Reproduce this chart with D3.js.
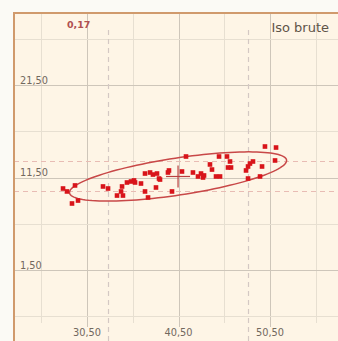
<!DOCTYPE html>
<html><head><meta charset="utf-8">
<script src="https://cdn.jsdelivr.net/npm/d3@7"></script>
<style>html,body{margin:0;padding:0;background:#fbfaf5;}svg{display:block;}</style>
</head><body>
<script>
// ---- data ----
const xTicks = [30.5, 40.5, 50.5];
const xTickLabels = ["30,50", "40,50", "50,50"];
const yTicks = [21.5, 11.5, 1.5];
const yTickLabels = ["21,50", "11,50", "1,50"];
const xGrid = [25.5, 30.5, 35.5, 40.5, 45.5, 50.5, 55.5];
const yGrid = [26.5, 21.5, 16.5, 11.5, 6.5, 1.5, -3.5];
const xs = [27.88,28.31,29.19,28.86,29.52,32.25,32.80,33.78,34.22,34.33,34.43,34.87,35.31,35.64,35.75,36.40,36.84,37.39,37.71,38.15,38.37,36.84,37.17,38.04,39.35,39.46,39.79,40.88,41.32,42.08,42.63,42.96,43.18,43.29,43.94,44.16,44.60,45.04,44.93,45.80,46.13,45.91,46.24,47.88,48.10,48.31,48.64,48.10,49.41,49.63,49.95,51.16,51.05,38.48];
const ys = [10.31,9.99,10.64,8.69,9.01,10.53,10.31,9.55,9.99,10.53,9.55,10.96,11.07,11.18,10.96,10.85,11.93,12.04,11.82,11.93,11.39,9.99,9.34,10.42,12.04,12.26,9.99,12.15,13.77,12.04,11.61,11.93,11.50,11.72,12.91,12.36,11.61,11.61,13.77,13.77,13.23,12.58,12.58,12.26,12.69,13.01,13.23,11.39,11.61,12.69,14.85,14.74,13.34,11.28];
const ellipseCenter = [40.45, 11.61];
const ellipseMajor = [11.86, 1.78];
const ellipseMinor = [0.30, -1.98];
const boundsX = [32.8, 48.1];
const boundsY = [13.23, 9.99];
const corrLabel = "0,17";
const chartLabel = "Iso brute";

// ---- drawing ----
const W = 338, H = 341;
const x = d3.scaleLinear().domain([30.5, 50.5]).range([87, 270]);
const y = d3.scaleLinear().domain([21.5, 1.5]).range([85, 270]);
const svg = d3.select("body").append("svg").attr("width", W).attr("height", H);

const plotL = 14, plotT = 13;
svg.append("rect").attr("x", plotL).attr("y", plotT).attr("width", W - plotL + 5).attr("height", H - plotT + 5)
  .attr("fill", "#fef5e6");

const isMajorX = v => xTicks.includes(v), isMajorY = v => yTicks.includes(v);
svg.append("g").selectAll("line").data(xGrid).join("line")
  .attr("x1", d => Math.round(x(d)) + 0.5).attr("x2", d => Math.round(x(d)) + 0.5)
  .attr("y1", plotT).attr("y2", d => isMajorX(d) ? 327 : 323)
  .attr("stroke", d => isMajorX(d) ? "#cec6ba" : "#e7dfd1").attr("stroke-width", 1);
svg.append("g").selectAll("line").data(yGrid).join("line")
  .attr("y1", d => Math.round(y(d)) + 0.5).attr("y2", d => Math.round(y(d)) + 0.5)
  .attr("x1", plotL).attr("x2", W)
  .attr("stroke", d => isMajorY(d) ? "#cec6ba" : "#e7dfd1").attr("stroke-width", 1);

// dashed bound lines
svg.append("g").selectAll("line").data(boundsX).join("line")
  .attr("x1", d => Math.round(x(d)) + 0.5).attr("x2", d => Math.round(x(d)) + 0.5)
  .attr("y1", 30).attr("y2", H)
  .attr("stroke", "#d4c8c4").attr("stroke-width", 1.2).attr("stroke-dasharray", "5,4");
svg.append("g").selectAll("line").data(boundsY).join("line")
  .attr("y1", d => Math.round(y(d)) + 0.5).attr("y2", d => Math.round(y(d)) + 0.5)
  .attr("x1", plotL).attr("x2", W)
  .attr("stroke", "#e8bcb4").attr("stroke-width", 1.2).attr("stroke-dasharray", "5,4");

// border
svg.append("line").attr("x1", plotL - 1).attr("x2", W).attr("y1", plotT).attr("y2", plotT)
  .attr("stroke", "#d09a6c").attr("stroke-width", 2);
svg.append("line").attr("x1", plotL).attr("x2", plotL).attr("y1", plotT).attr("y2", H)
  .attr("stroke", "#d09a6c").attr("stroke-width", 2);

// tick labels
const lblFont = "DejaVu Sans, Verdana, sans-serif";
svg.append("g").selectAll("text").data(xTicks).join("text")
  .attr("x", d => x(d)).attr("y", 336).attr("text-anchor", "middle")
  .attr("font-family", lblFont).attr("font-size", 9.8).attr("fill", "#72685e")
  .text((d, i) => xTickLabels[i]);
svg.append("g").selectAll("text").data(yTicks).join("text")
  .attr("x", 20).attr("y", d => y(d) - 1.5)
  .attr("font-family", lblFont).attr("font-size", 9.8).attr("fill", "#72685e")
  .text((d, i) => yTickLabels[i]);

// ellipse
const ePts = d3.range(0, 361, 3).map(a => {
  const t = a * Math.PI / 180;
  return [ellipseCenter[0] + ellipseMajor[0] * Math.cos(t) + ellipseMinor[0] * Math.sin(t),
          ellipseCenter[1] + ellipseMajor[1] * Math.cos(t) + ellipseMinor[1] * Math.sin(t)];
});
svg.append("path").attr("d", d3.line().x(d => x(d[0])).y(d => y(d[1])).curve(d3.curveLinearClosed)(ePts))
  .attr("fill", "none").attr("stroke", "#c84848").attr("stroke-width", 1.5);

// center cross
const cx = x(ellipseCenter[0]), cy = y(ellipseCenter[1]);
svg.append("line").attr("x1", cx - 12).attr("x2", cx + 12).attr("y1", cy).attr("y2", cy).attr("stroke", "#b84040").attr("stroke-width", 1.2);
svg.append("line").attr("x1", cx).attr("x2", cx).attr("y1", cy - 11).attr("y2", cy + 11).attr("stroke", "#b84040").attr("stroke-width", 1.2);

// points
const s = 4.6;
svg.append("g").selectAll("rect").data(xs.map((v, i) => [v, ys[i]])).join("rect")
  .attr("x", d => x(d[0]) - s / 2).attr("y", d => y(d[1]) - s / 2)
  .attr("width", s).attr("height", s).attr("fill", "#d8141a");

// labels
svg.append("text").attr("x", 67).attr("y", 28).attr("font-family", lblFont).attr("font-size", 9.5)
  .attr("font-weight", "bold").attr("fill", "#b05050").text(corrLabel);
svg.append("text").attr("x", 329).attr("y", 32).attr("text-anchor", "end").attr("font-family", lblFont)
  .attr("font-size", 13).attr("fill", "#5e5448").text(chartLabel);
</script>
</body></html>
